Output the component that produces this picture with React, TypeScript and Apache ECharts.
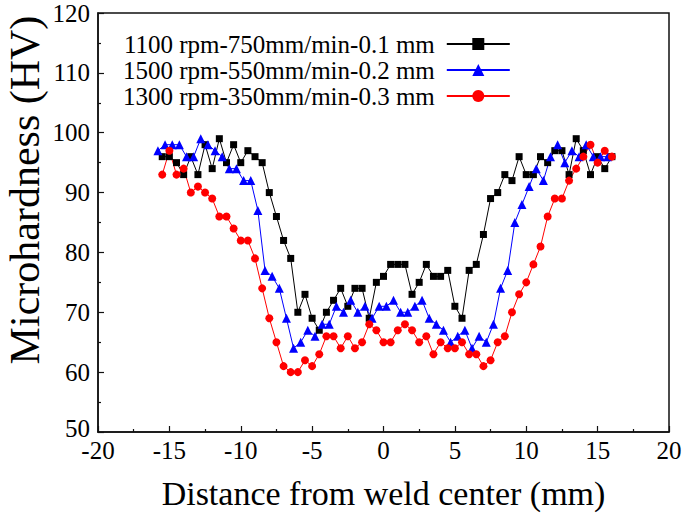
import React, { useEffect, useRef } from "react";
import * as echarts from "echarts";

const distBR = [-15.5, -15, -14.5, -14, -13.5, -13, -12.5, -12, -11.5, -11, -10.5, -10, -9.5, -9, -8.5, -8, -7.5, -7, -6.5, -6, -5.5, -5, -4.5, -4, -3.5, -3, -2.5, -2, -1.5, -1, -0.5, 0, 0.5, 1, 1.5, 2, 2.5, 3, 3.5, 4, 4.5, 5, 5.5, 6, 6.5, 7, 7.5, 8, 8.5, 9, 9.5, 10, 10.5, 11, 11.5, 12, 12.5, 13, 13.5, 14, 14.5, 15, 15.5, 16];
const distBlue = [-15.8, -15.3, -14.8, -14.3, -13.8, -13.3, -12.8, -12.3, -11.8, -11.3, -10.8, -10.3, -9.8, -9.3, -8.8, -8.3, -7.8, -7.3, -6.8, -6.3, -5.8, -5.3, -4.8, -4.3, -3.8, -3.3, -2.8, -2.3, -1.8, -1.3, -0.8, -0.3, 0.2, 0.7, 1.2, 1.7, 2.2, 2.7, 3.2, 3.7, 4.2, 4.7, 5.2, 5.7, 6.2, 6.7, 7.2, 7.7, 8.2, 8.7, 9.2, 9.7, 10.2, 10.7, 11.2, 11.7, 12.2, 12.7, 13.2, 13.7, 14.2, 14.7, 15.2, 15.7];

const hvBlack = [96, 96, 95, 93, 96, 93, 98, 94, 99, 95, 98, 95, 97, 96, 95, 90, 86, 82, 79, 70, 73, 69, 67, 70, 72, 74, 71, 74, 74, 69, 75, 76, 78, 78, 78, 73, 75, 78, 76, 76, 77, 71, 69, 77, 78, 83, 89, 90, 93, 92, 96, 93, 93, 96, 95, 97, 97, 93, 99, 97, 93, 96, 94, 96];
const hvBlue = [97, 98, 98, 98, 96, 96, 99, 98, 97, 96, 94, 94, 92, 92, 87, 77, 76, 74, 69, 64, 65, 67, 66, 68, 68, 71, 70, 72, 70, 71, 69, 71, 71, 72, 70, 70, 71, 72, 69, 68, 67, 65, 66, 67, 64, 66, 65, 68, 74, 77, 85, 88, 91, 94, 92, 96, 98, 95, 97, 96, 98, 96, 96, 96];
const hvRed = [93, 97, 93, 94, 90, 91, 90, 89, 86, 86, 84, 82, 82, 79, 74, 69, 65, 61, 60, 60, 62, 61, 63, 66, 66, 64, 66, 64, 65, 68, 67, 65, 65, 67, 68, 67, 65, 66, 63, 65, 64, 64, 65, 63, 63, 61, 62, 65, 66, 70, 73, 75, 78, 81, 86, 89, 89, 92, 94, 96, 98, 95, 97, 96];

const seriesNames = [
  "1100 rpm-750mm/min-0.1 mm",
  "1500 rpm-550mm/min-0.2 mm",
  "1300 rpm-350mm/min-0.3 mm",
];

const xTitle = "Distance from weld center (mm)";
const yTitle = "Microhardness (HV)";

const FONT = "'Liberation Serif', 'Times New Roman', serif";
const AX = "#111";

const pair = (xs: number[], ys: number[]) => xs.map((x, i) => [x, ys[i]]);

export default function App() {
  const ref = useRef<HTMLDivElement>(null);
  useEffect(() => {
    if (!ref.current) return;
    const chart = echarts.init(ref.current, undefined, { renderer: "svg" });
    const axisCommon = {
      type: "value" as const,
      axisLine: { show: true, onZero: false, lineStyle: { color: AX, width: 1.5 } },
      axisTick: { show: true, inside: true, length: 6, lineStyle: { color: AX, width: 1.2 } },
      minorTick: { show: true, splitNumber: 2, length: 3, lineStyle: { color: AX, width: 1.2 } },
      splitLine: { show: false },
      axisLabel: { fontFamily: FONT, fontSize: 25, color: "#000" },
    };
    chart.setOption({
      animation: false,
      backgroundColor: "#fff",
      grid: {
        left: 98,
        right: 16,
        top: 13,
        bottom: 89,
        show: true,
        borderColor: AX,
        borderWidth: 1.5,
        backgroundColor: "transparent",
      },
      legend: {
        orient: "vertical",
        align: "right",
        left: 123,
        top: 31,
        padding: 0,
        itemGap: 0,
        itemWidth: 63,
        itemHeight: 15,
        lineStyle: { width: 2 },
        textStyle: {
          fontFamily: FONT,
          fontSize: 25,
          color: "#000",
          lineHeight: 26,
          padding: [0, 7, 0, 0],
        },
        data: seriesNames,
      },
      xAxis: {
        ...axisCommon,
        min: -20,
        max: 20,
        interval: 5,
        axisLabel: { ...axisCommon.axisLabel, margin: 10, lineHeight: 17 },
        name: xTitle,
        nameLocation: "middle",
        nameGap: 44,
        nameTextStyle: { fontFamily: FONT, fontSize: 34, color: "#000" },
      },
      yAxis: {
        ...axisCommon,
        min: 50,
        max: 120,
        interval: 10,
        axisLabel: {
          ...axisCommon.axisLabel,
          margin: 8,
          lineHeight: 8,
          verticalAlignMinLabel: "bottom",
        },
      },
      graphic: [
        {
          type: "text",
          x: 25,
          y: 190,
          rotation: Math.PI / 2,
          style: {
            text: yTitle,
            fontFamily: FONT,
            fontSize: 42,
            fill: "#000",
            align: "center",
            verticalAlign: "middle",
          },
        },
      ],
      series: [
        {
          name: seriesNames[0],
          type: "line",
          data: pair(distBR, hvBlack),
          symbol: "rect",
          symbolSize: 7,
          color: "#000",
          lineStyle: { width: 1, color: "#000" },
          itemStyle: { color: "#000" },
        },
        {
          name: seriesNames[1],
          type: "line",
          data: pair(distBlue, hvBlue),
          symbol: "triangle",
          symbolSize: 9,
          color: "#0000ff",
          lineStyle: { width: 1, color: "#0000ff" },
          itemStyle: { color: "#0000ff" },
        },
        {
          name: seriesNames[2],
          type: "line",
          data: pair(distBR, hvRed),
          symbol: "circle",
          symbolSize: 8,
          color: "#ff0000",
          lineStyle: { width: 1, color: "#ff0000" },
          itemStyle: { color: "#ff0000" },
        },
      ],
    });
    return () => chart.dispose();
  }, []);
  return (
    <div
      ref={ref}
      style={{ position: "absolute", left: 0, top: 0, width: 685, height: 521 }}
    />
  );
}
